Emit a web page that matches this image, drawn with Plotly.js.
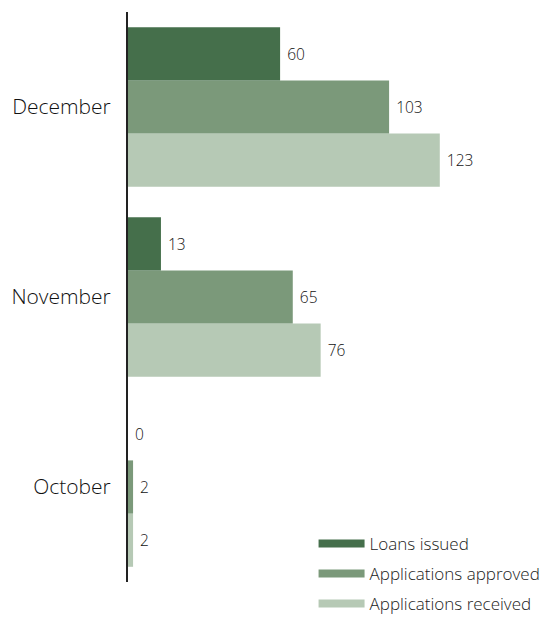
<!DOCTYPE html>
<html>
<head>
<meta charset="utf-8">
<script src="https://cdn.plot.ly/plotly-3.0.1.min.js"></script>
<style>html,body{margin:0;padding:0;background:#fff;overflow:hidden}#chart{width:575px;height:640px}</style>
</head>
<body>
<div id="chart"></div>
<script>
const months = ["October", "November", "December"];
const loansIssued = [0, 13, 60];
const applicationsApproved = [2, 65, 103];
const applicationsReceived = [2, 76, 123];
const seriesNames = ["Loans issued", "Applications approved", "Applications received"];
const seriesColors = ["#456f4b", "#7b997a", "#b6c9b5"];

const font = "'Open Sans', sans-serif";
function barTrace(vals, i) {
  return {
    type: "bar", orientation: "h", y: months, x: vals,
    name: seriesNames[i], showlegend: false,
    marker: {color: seriesColors[i]},
    text: vals.map(String), texttemplate: " %{text}", textposition: "outside", cliponaxis: false,
    textfont: {size: 15.5, color: "#111", family: font, weight: 300},
    hoverinfo: "x+name"
  };
}
function legendTrace(i) {
  return {
    type: "scatter", mode: "lines", x: [null], y: [null],
    name: seriesNames[i], legendgroup: "g" + i,
    line: {color: seriesColors[i], width: 8}, hoverinfo: "skip"
  };
}
const data = [
  barTrace(applicationsReceived, 2),
  barTrace(applicationsApproved, 1),
  barTrace(loansIssued, 0),
  legendTrace(0), legendTrace(1), legendTrace(2)
];
const layout = {
  width: 575, height: 640,
  margin: {l: 128, r: 30, t: 12, b: 58},
  barmode: "group", bargap: 0.16, bargroupgap: 0,
  paper_bgcolor: "#fff", plot_bgcolor: "#fff",
  font: {family: font, color: "#111"},
  xaxis: {range: [0, 164.5], visible: false, fixedrange: true},
  yaxis: {
    showline: true, linecolor: "#222", linewidth: 2,
    showgrid: false, zeroline: false, ticks: "", ticklabelstandoff: 11,
    tickfont: {size: 21, color: "#111", family: font, weight: 300},
    automargin: false
  },
  showlegend: true,
  legend: {
    x: 0.445, xanchor: "left", y: 0.0985, yanchor: "top",
    traceorder: "grouped", tracegroupgap: 5, itemwidth: 46,
    font: {size: 17, color: "#222", family: font, weight: 300},
    bgcolor: "rgba(0,0,0,0)"
  }
};
Plotly.newPlot("chart", data, layout, {displayModeBar: false, staticPlot: true});
</script>
</body>
</html>
